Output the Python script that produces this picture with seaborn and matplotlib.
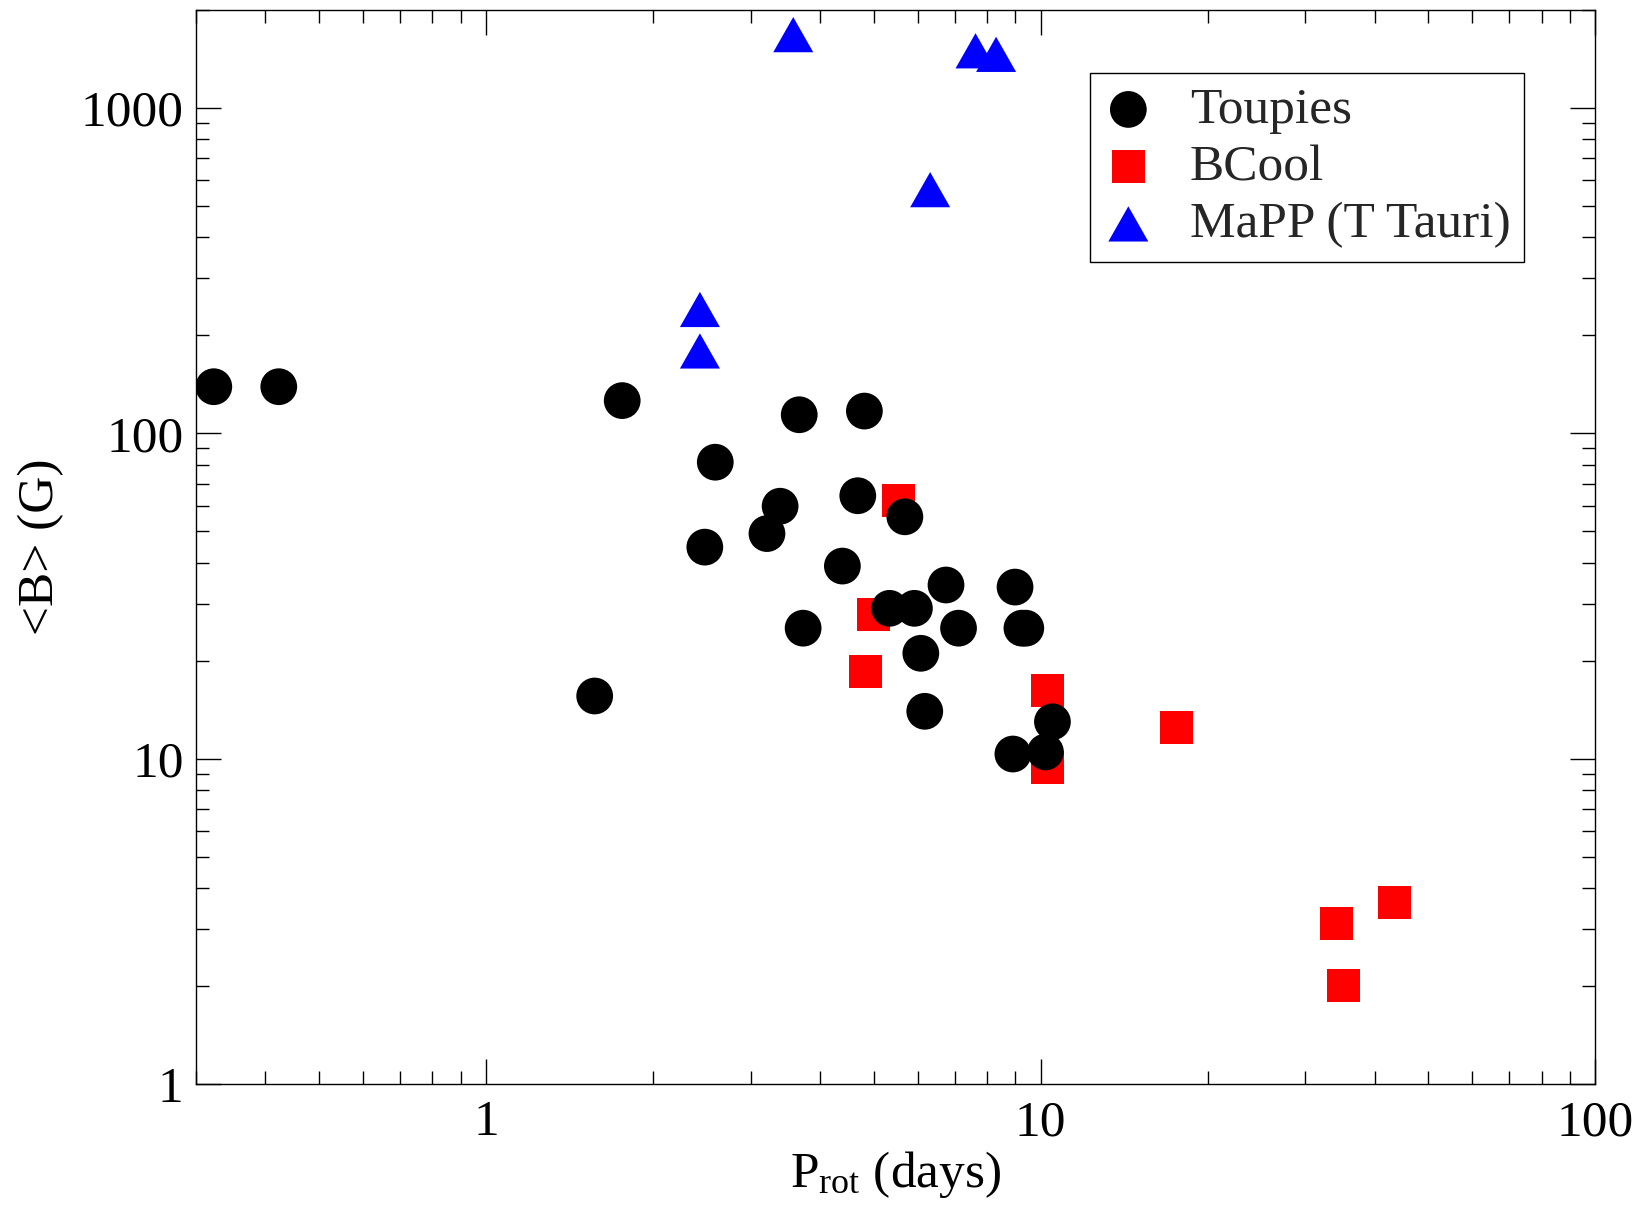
import numpy as np
import matplotlib
matplotlib.use("Agg")
import matplotlib.pyplot as plt
from matplotlib.markers import MarkerStyle
from matplotlib.ticker import LogLocator, FuncFormatter, NullFormatter
import seaborn as sns

# Rotation period (days) and mean surface field <B> (G)
toupies_prot = [0.323, 0.423, 1.57, 1.76, 2.48, 2.59, 3.21, 3.39, 3.67, 3.73,
                4.39, 4.68, 4.81, 5.34, 5.69, 5.92, 6.08, 6.18, 6.75, 7.11,
                8.91, 8.99, 9.25, 9.40, 10.2, 10.5]
toupies_B = [139, 139, 15.6, 126, 44.7, 81.5, 49.2, 59.7, 114, 25.2,
             39.1, 64.3, 117, 29.0, 55.4, 29.0, 21.1, 14.0, 34.2, 25.2,
             10.35, 33.7, 25.2, 25.2, 10.5, 13.0]

bcool_prot = [4.83, 5.00, 5.55, 10.3, 10.3, 17.6, 34.2, 35.2, 43.4]
bcool_B = [18.6, 27.7, 62.0, 16.2, 9.43, 12.5, 3.13, 2.01, 3.63]

mapp_prot = [2.43, 2.43, 3.58, 6.32, 7.63, 8.31]
mapp_B = [240, 179, 1676, 560, 1495, 1458]

series_labels = ["Toupies", "BCool", "MaPP (T Tauri)"]
x_ticks = [1, 10, 100]
y_ticks = [1, 10, 100, 1000]

sns.set_theme(style="ticks")
plt.rcParams["font.family"] = ["Liberation Serif", "DejaVu Serif"]
plt.rcParams["mathtext.fontset"] = "custom"
plt.rcParams["mathtext.rm"] = "Liberation Serif"
plt.rcParams["mathtext.it"] = "Liberation Serif:italic"
plt.rcParams["axes.linewidth"] = 1.0
plt.rcParams["axes.edgecolor"] = "black"

FS = 37

fig = plt.figure(figsize=(16.43, 12.07), dpi=100)
ax = fig.add_axes([0.1193, 0.1015, 0.8517, 0.8905])

tri = MarkerStyle([(0, 0.88), (-1, -0.88), (1, -0.88)])

sns.scatterplot(x=bcool_prot, y=bcool_B, marker="s", s=565, color="#ff0000",
                edgecolor="none", linewidth=0, ax=ax, label=series_labels[1], zorder=2)
sns.scatterplot(x=toupies_prot, y=toupies_B, marker="o", s=700, color="black",
                edgecolor="none", linewidth=0, ax=ax, label=series_labels[0], zorder=3)
sns.scatterplot(x=mapp_prot, y=mapp_B, marker=tri, s=830, color="#0000ff",
                edgecolor="none", linewidth=0, ax=ax, label=series_labels[2], zorder=4)

ax.set_xscale("log")
ax.set_yscale("log")
ax.set_xlim(0.3, 100)
ax.set_ylim(1, 2000)

fmt = FuncFormatter(lambda v, _: f"{v:g}")
for axis, ticks in ((ax.xaxis, x_ticks), (ax.yaxis, y_ticks)):
    axis.set_major_locator(LogLocator(base=10, numticks=12))
    axis.set_minor_locator(LogLocator(base=10, subs=np.arange(2, 10), numticks=12))
    axis.set_major_formatter(fmt)
    axis.set_minor_formatter(NullFormatter())

ax.tick_params(which="both", direction="in", top=True, right=True, color="black",
               width=1.0, labelcolor="black")
ax.tick_params(which="major", length=18, labelsize=FS)
ax.tick_params(which="minor", length=9.5)
ax.tick_params(axis="x", which="major", pad=11)
ax.tick_params(axis="y", which="major", pad=9)

for sp in ax.spines.values():
    sp.set_visible(True)
    sp.set_color("black")
    sp.set_linewidth(1.0)

ax.set_xlabel("P$_{\\rm rot}$ (days)", fontsize=FS, color="black", labelpad=2)
ax.set_ylabel("<B> (G)", fontsize=FS, color="black", labelpad=12)

handles, labels = ax.get_legend_handles_labels()
order = [labels.index(l) for l in series_labels]
leg = ax.legend([handles[i] for i in order], [labels[i] for i in order],
                loc="upper left", bbox_to_anchor=(0.6389, 0.941),
                fontsize=FS, frameon=True, fancybox=False, shadow=False,
                framealpha=1, edgecolor="black", borderpad=0.27,
                labelspacing=0.2, handlelength=0.95, handletextpad=0.72,
                borderaxespad=0, scatterpoints=1)
leg.get_frame().set_linewidth(1.0)

fig.savefig("out.png", dpi=100, facecolor="white")
